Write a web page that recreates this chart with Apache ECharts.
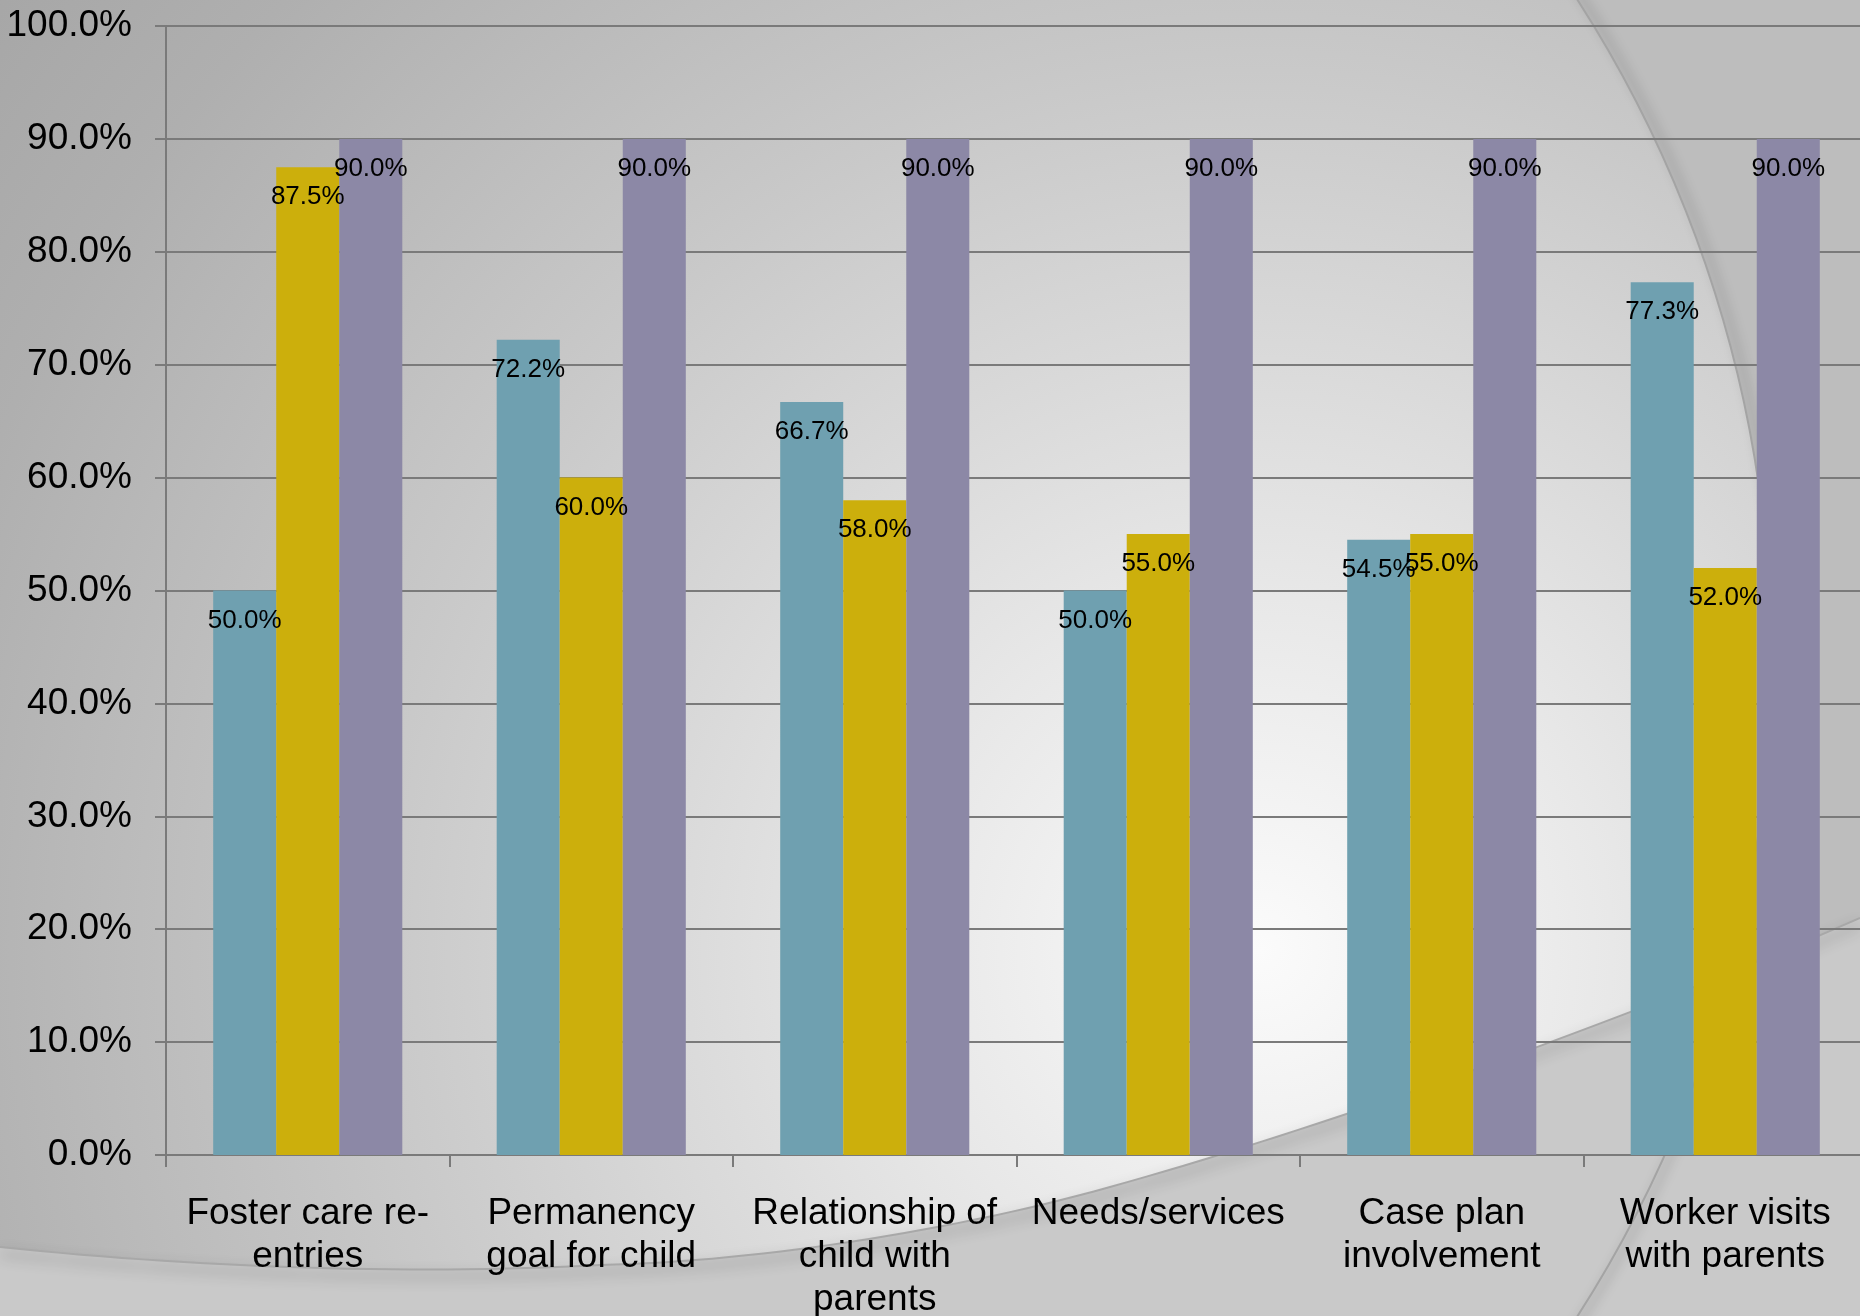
<!DOCTYPE html>
<html>
<head>
<meta charset="utf-8">
<script src="https://cdn.jsdelivr.net/npm/echarts@6/dist/echarts.min.js"></script>
<style>
html,body{margin:0;padding:0;background:#c4c4c4;overflow:hidden;}
#chart{width:1860px;height:1316px;}
</style>
</head>
<body>
<div id="chart"></div>
<script>
// ---- data ----
const categories = [
  'Foster care re-\nentries',
  'Permanency\ngoal for child',
  'Relationship of\nchild with\nparents',
  'Needs/services',
  'Case plan\ninvolvement',
  'Worker visits\nwith parents'
];
const seriesTeal = [50.0, 72.2, 66.7, 50.0, 54.5, 77.3];
const seriesGold = [87.5, 60.0, 58.0, 55.0, 55.0, 52.0];
const seriesPurple = [90.0, 90.0, 90.0, 90.0, 90.0, 90.0];
const yMin = 0, yMax = 100, yStep = 10;

// ---- decorative background helpers ----
function cubic(p0, p1, p2, p3, n) {
  const pts = [];
  for (let i = 0; i <= n; i++) {
    const t = i / n, u = 1 - t;
    pts.push([
      u*u*u*p0[0] + 3*u*u*t*p1[0] + 3*u*t*t*p2[0] + t*t*t*p3[0],
      u*u*u*p0[1] + 3*u*u*t*p1[1] + 3*u*t*t*p2[1] + t*t*t*p3[1]
    ]);
  }
  return pts;
}
const swoosh = [].concat(
  cubic([0,1247],[200,1268],[420,1275],[600,1265],30),
  cubic([600,1265],[750,1262],[950,1232],[1110,1187],30).slice(1),
  cubic([1110,1187],[1350,1120],[1650,1010],[1860,918],40).slice(1)
);
const swooshFill = swoosh.concat([[1860,1316],[0,1316]]);
const CX = 555, CY = 658, R = 1216;

const chart = echarts.init(document.getElementById('chart'), null, {renderer: 'canvas'});
const font = "'Liberation Sans', Arial, Helvetica, sans-serif";
const pctLabel = {
  show: true,
  position: 'insideTop',
  distance: 17,
  color: '#000',
  fontSize: 26,
  fontFamily: font,
  formatter: p => p.value.toFixed(1) + '%'
};

chart.setOption({
  backgroundColor: 'transparent',
  animation: false,
  graphic: [
    {type: 'rect', silent: true, z: -100, shape: {x: 0, y: 0, width: 1860, height: 1316},
     style: {fill: {type: 'radial', x: 1260, y: 950, r: 1600, global: true,
       colorStops: [
         {offset: 0, color: '#fbfbfb'},
         {offset: 0.22, color: '#e8e8e8'},
         {offset: 0.55, color: '#c9c9c9'},
         {offset: 0.85, color: '#afafaf'},
         {offset: 1, color: '#a6a6a6'}
       ]}}},
    {type: 'ring', silent: true, z: -99, shape: {cx: CX, cy: CY, r: 3200, r0: R},
     style: {fill: '#bdbdbd'}},
    {type: 'polygon', silent: true, z: -98, shape: {points: swooshFill},
     style: {fill: '#c9c9c9'}},
    {type: 'polyline', silent: true, z: -97, shape: {points: swoosh},
     style: {stroke: '#a8a8a8', lineWidth: 2, fill: null,
       shadowBlur: 14, shadowColor: 'rgba(0,0,0,0.45)', shadowOffsetY: 7}},
    {type: 'circle', silent: true, z: -96, shape: {cx: CX, cy: CY, r: R},
     style: {stroke: '#a4a4a4', lineWidth: 2, fill: null,
       shadowBlur: 12, shadowColor: 'rgba(0,0,0,0.4)', shadowOffsetX: 6}}
  ],
  grid: {left: 166, top: 26, width: 1701, height: 1129, containLabel: false,
         outerBoundsMode: 'none'},
  xAxis: {
    type: 'category',
    data: categories,
    axisLine: {show: true, lineStyle: {color: '#7a7a7a', width: 2}},
    axisTick: {show: true, length: 12, lineStyle: {color: '#7a7a7a', width: 2}},
    axisLabel: {
      interval: 0, margin: 37, color: '#000', fontSize: 37, lineHeight: 43,
      fontFamily: font, align: 'center'
    },
    splitLine: {show: false}
  },
  yAxis: {
    type: 'value',
    min: yMin, max: yMax, interval: yStep,
    axisLine: {show: true, lineStyle: {color: '#7a7a7a', width: 2}},
    axisTick: {show: true, length: 11, lineStyle: {color: '#7a7a7a', width: 2}},
    axisLabel: {
      margin: 34, color: '#000', fontSize: 37, fontFamily: font,
      padding: [9, 0, 0, 0],
      formatter: v => v.toFixed(1) + '%'
    },
    splitLine: {show: true, lineStyle: {color: '#7a7a7a', width: 2}}
  },
  series: [
    {name: 'Series 1', type: 'bar', data: seriesTeal, barGap: '0%', barCategoryGap: '33.3%',
     itemStyle: {color: '#6fa0b0'}, label: pctLabel},
    {name: 'Series 2', type: 'bar', data: seriesGold, barGap: '0%', barCategoryGap: '33.3%',
     itemStyle: {color: '#ccaf0c'}, label: pctLabel},
    {name: 'Series 3', type: 'bar', data: seriesPurple, barGap: '0%', barCategoryGap: '33.3%',
     itemStyle: {color: '#8c88a6'}, label: pctLabel}
  ]
});
</script>
</body>
</html>
